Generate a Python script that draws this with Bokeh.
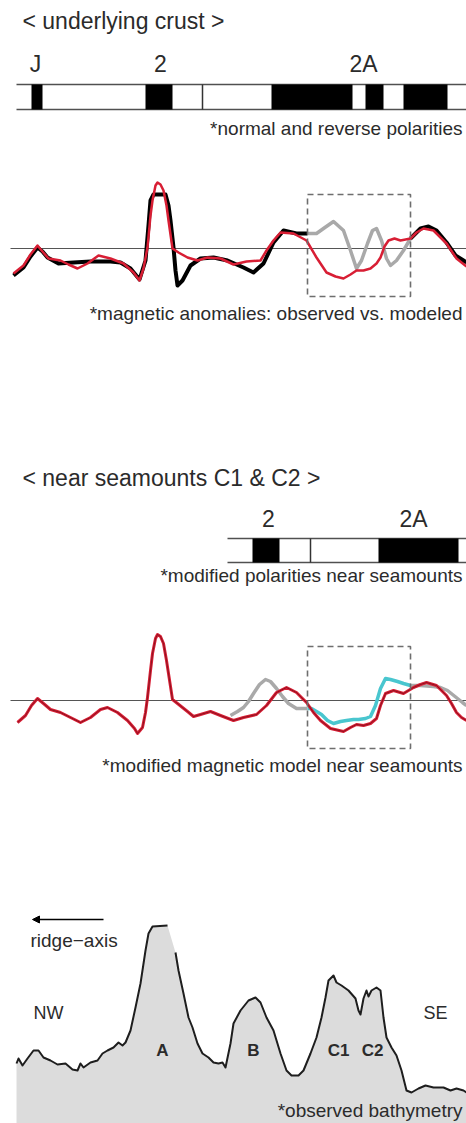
import numpy as np
from bokeh.plotting import figure
from bokeh.layouts import column
from bokeh.models import Range1d, Arrow, NormalHead, Label, BoxAnnotation
from bokeh.embed import file_html
from bokeh.resources import INLINE

FONT = "Liberation Sans"
WIDTH = 466
X_RANGE = (0.0, 93.2)          # distance along the profile, km

# ---------------------------------------------------------------- polarity
crust_bar_extent = (3.2, 93.2)
crust_reversed_start = [6.2, 29.0, 54.2, 73.0, 80.6]
crust_reversed_end = [8.4, 34.4, 70.4, 76.6, 89.4]
crust_boundaries = [40.4]
crust_chron_labels = ["J", "2", "2A"]
crust_chron_x = [7.0, 32.0, 72.6]

seamount_bar_extent = (45.4, 93.2)
seamount_reversed_start = [50.4, 75.6]
seamount_reversed_end = [55.8, 91.6]
seamount_boundaries = [62.0]
seamount_chron_labels = ["2", "2A"]
seamount_chron_x = [53.6, 82.6]

# ------------------------------------------------- magnetic anomalies (nT)
observed_km = [2.6, 4.6, 6.0, 7.4, 8.4, 9.4, 11.6, 14.6, 18.0, 22.0, 24.0, 26.0,
               27.8, 29.0, 29.6, 30.0, 30.6, 33.0, 33.6, 34.0, 34.6, 35.0, 35.4,
               36.4, 38.0, 40.0, 42.6, 45.4, 48.6, 50.6, 52.6, 54.6, 56.6, 59.2,
               61.2, 63.2, 64.6, 66.6, 68.6, 70.0, 71.2, 72.2, 73.4, 74.4, 75.2,
               76.2, 77.2, 78.0, 79.2, 80.6, 82.0, 84.0, 85.6, 87.2, 89.2, 91.0,
               92.6, 93.2]
observed_nT = [-270, -190, -80, 10, -30, -90, -150, -140, -130, -130, -140, -200,
               -310, -120, 230, 480, 540, 540, 430, 280, 10, -220, -370,
               -320, -170, -100, -90, -120, -190, -240, -150, 60, 180, 150,
               150, 150, 200, 270, 180, -20, -200, -120, 50, 180, 200,
               80, -100, -170, -120, -20, 100, 200, 220, 180, 60, -70,
               -120, -140]

model_km = [2.6, 4.6, 6.0, 7.4, 8.4, 9.6, 12.0, 13.6, 15.4, 17.4, 19.6, 22.0,
            24.6, 26.6, 27.8, 28.6, 29.4, 30.0, 30.4, 31.0, 31.4, 32.0, 32.6,
            33.2, 33.6, 34.4, 35.6, 37.4, 39.4, 41.4, 44.0, 46.6, 49.2, 52.0,
            53.2, 54.6, 56.0, 58.6, 61.2, 63.2, 65.2, 67.0, 68.6, 70.0, 71.2,
            72.6, 74.0, 75.2, 76.0, 76.8, 77.6, 78.8, 80.0, 81.0, 82.0, 83.2,
            84.6, 86.6, 89.2, 91.2, 93.2]
model_nT = [-250, -170, -60, 30, -30, -100, -120, -160, -200, -150, -70, -100,
            -150, -240, -320, -200, 10, 330, 480, 630, 660, 640, 580,
            430, 280, 0, -40, -90, -120, -90, -100, -160, -130, -120,
            -20, 80, 160, 150, 80, -90, -240, -280, -300, -260, -220,
            -220, -200, -150, -90, 20, 80, 100, 80, 90, 100, 160,
            200, 180, 50, -100, -180]

# modified model near the seamounts
modified_km = [3.4, 5.0, 6.2, 7.4, 8.6, 10.0, 12.0, 14.0, 16.0, 18.0, 20.0, 21.4,
               23.4, 25.4, 26.8, 27.4, 28.4, 29.0, 29.4, 30.0, 30.4, 31.0, 31.4,
               32.0, 32.6, 33.2, 33.6, 34.4, 36.4, 37.4, 38.6, 40.0, 42.0, 44.0,
               46.6, 48.6, 51.2, 53.2, 55.2, 57.2, 59.2, 61.2, 62.6, 64.0, 66.0,
               68.6, 70.0, 71.2, 72.6, 74.0, 75.2, 76.0, 77.0, 78.6, 80.6, 82.6,
               84.0, 85.2, 87.2, 89.2, 90.2, 91.2, 92.2, 93.2]
modified_nT = [-220, -150, -50, 20, -30, -90, -120, -170, -220, -170, -90, -70,
               -120, -200, -280, -330, -270, -120, 30, 300, 470, 620, 660,
               640, 570, 400, 270, 10, -70, -110, -160, -140, -110, -150,
               -200, -170, -140, -50, 80, 130, 80, -20, -120, -200, -280,
               -310, -270, -240, -250, -230, -180, -50, 70, 100, 70, 130,
               160, 180, 150, 50, -30, -120, -170, -200]

# reference anomaly plotted against the modified model
reference_km = [46.0, 47.4, 48.6, 49.6, 50.6, 51.8, 53.0, 54.0, 55.2, 56.4, 57.6,
                59.2, 61.0, 62.2, 63.2, 64.2, 65.4, 66.6, 68.0, 69.2, 70.6, 71.6,
                73.0, 74.0, 75.0, 76.0, 77.0, 78.0, 79.4, 80.6, 82.0, 84.0, 86.6,
                88.0, 89.4, 90.4, 91.4, 92.4, 93.2]
reference_nT = [-150, -110, -70, -10, 70, 160, 210, 190, 120, 40, -30,
                -80, -80, -80, -110, -140, -200, -230, -210, -200, -190, -190,
                -180, -160, -50, 120, 220, 210, 190, 170, 150, 150, 140,
                130, 100, 60, 20, -20, -50]

# window around seamounts C1 & C2
window_km = (61.4, 82.0)
window_nT = (-480, 540)

# ------------------------------------------------------- bathymetry (m)
bathy_km = [3.2, 3.6, 4.4, 5.4, 6.6, 7.6, 8.6, 10.0, 11.4, 13.0, 14.4, 15.4, 16.0,
            16.6, 18.0, 19.4, 20.4, 21.4, 22.6, 23.6, 24.4, 25.0, 26.0, 27.0,
            28.0, 29.0, 29.6, 30.4, 33.4, 35.0, 35.6, 36.6, 37.6, 38.4, 39.4,
            40.4, 41.6, 42.6, 43.6, 44.4, 45.0, 46.0, 46.6, 48.0, 49.6, 51.0,
            52.0, 53.2, 54.6, 56.0, 57.2, 58.2, 59.6, 60.6, 62.0, 63.2, 64.2,
            65.0, 65.6, 66.6, 67.2, 68.2, 69.6, 71.0, 71.6, 72.0, 72.6, 73.2,
            73.6, 74.2, 75.2, 76.0, 76.6, 77.2, 78.2, 79.2, 80.2, 81.2, 82.2,
            83.6, 85.0, 86.6, 88.6, 90.0, 91.2, 92.6, 93.2]
bathy_m = [600, 650, 580, 650, 730, 730, 660, 630, 590, 600, 540, 530, 600,
           560, 610, 630, 700, 730, 760, 810, 780, 810, 930, 1160,
           1400, 1730, 1900, 1970, 1980, 1710, 1530, 1300, 1060, 960, 800,
           700, 660, 610, 600, 610, 560, 800, 1000, 1130, 1230, 1260,
           1210, 1060, 930, 700, 530, 480, 480, 530, 700, 860, 1060,
           1260, 1430, 1480, 1410, 1380, 1330, 1250, 1130, 1090, 1250, 1330,
           1270, 1330, 1360, 1330, 1060, 860, 760, 680, 530, 330, 310,
           350, 380, 360, 360, 330, 350, 330, 310]
outline_break_km = 34.0      # survey gap on the flank of seamount A
seamount_names = ["A", "B", "C1", "C2"]
seamount_label_km = [32.4, 50.6, 67.6, 74.4]

TEXT = "#2b2b2b"
RED = "#d81e34"
GREY = "#a9a9a9"
CYAN = "#49c6cf"


def panel(height, y_start, y_end):
    p = figure(width=WIDTH, height=height, x_range=Range1d(*X_RANGE),
               y_range=Range1d(y_start, y_end), toolbar_location=None,
               output_backend="svg", min_border=0, min_border_left=0,
               min_border_right=0, min_border_top=0, min_border_bottom=0,
               outline_line_color=None, background_fill_color="white",
               border_fill_color="white")
    p.axis.visible = False
    p.grid.visible = False
    return p


def label(p, x, y, text, size, align="left", bold=False):
    p.add_layout(Label(x=x, y=y, text=text, text_font=FONT,
                       text_font_size=f"{size}px", text_align=align,
                       text_baseline="middle", text_color=TEXT,
                       text_font_style="bold" if bold else "normal"))


def polarity_bar(p, extent, rev_start, rev_end, bounds, top, bottom):
    p.segment(x0=[extent[0]] * 2, x1=[extent[1]] * 2, y0=[top, bottom],
              y1=[top, bottom], line_color="#505050", line_width=1.5)
    p.quad(left=rev_start, right=rev_end, top=top, bottom=bottom,
           fill_color="black", line_color=None)
    p.segment(x0=bounds, x1=bounds, y0=top, y1=bottom,
              line_color="#333333", line_width=1.5)


def split_window(x, y, x0, x1):
    x = np.asarray(x, float)
    y = np.asarray(y, float)
    y0, y1 = np.interp(x0, x, y), np.interp(x1, x, y)
    left, mid, right = x < x0, (x > x0) & (x < x1), x > x1
    return ((np.r_[x[left], x0], np.r_[y[left], y0]),
            (np.r_[x0, x[mid], x1], np.r_[y0, y[mid], y1]),
            (np.r_[x1, x[right]], np.r_[y1, y[right]]))


def window_box(p):
    p.add_layout(BoxAnnotation(left=window_km[0], right=window_km[1],
                               bottom=window_nT[0], top=window_nT[1],
                               fill_alpha=0, line_color="#6e6e6e",
                               line_alpha=1.0, line_width=1.6,
                               line_dash="6 4"))


def zero_line(p):
    p.line([2.0, X_RANGE[1]], [0, 0], line_color="#555555", line_width=1)


# ---- normal and reverse polarities of the underlying crust
p1 = panel(145, 145, 0)
label(p1, 4.4, 20, "< underlying crust >", 23)
for name, xc in zip(crust_chron_labels, crust_chron_x):
    label(p1, xc, 63, name, 23, align="center")
polarity_bar(p1, crust_bar_extent, crust_reversed_start, crust_reversed_end,
             crust_boundaries, 84, 109)
label(p1, 92.4, 128, "*normal and reverse polarities", 19, align="right")

# ---- observed vs. modeled anomalies
p2 = panel(310, -2070, 1030)
zero_line(p2)
window_box(p2)
obs_l, obs_m, obs_r = split_window(observed_km, observed_nT, *window_km)
p2.line(obs_m[0], obs_m[1], line_color=GREY, line_width=3.5, line_join="round")
for seg in (obs_l, obs_r):
    p2.line(seg[0], seg[1], line_color="black", line_width=4, line_join="round")
p2.line(model_km, model_nT, line_color=RED, line_width=2.5, line_join="round")
label(p2, 92.4, -650, "*magnetic anomalies: observed vs. modeled", 19, align="right")

# ---- modified polarities near the seamounts
p3 = panel(145, 145, 0)
label(p3, 4.4, 22, "< near seamounts C1 & C2 >", 23)
for name, xc in zip(seamount_chron_labels, seamount_chron_x):
    label(p3, xc, 63, name, 23, align="center")
polarity_bar(p3, seamount_bar_extent, seamount_reversed_start,
             seamount_reversed_end, seamount_boundaries, 83, 107)
label(p3, 92.4, 120, "*modified polarities near seamounts", 19, align="right")

# ---- modified magnetic model
p4 = panel(290, -1900, 1000)
zero_line(p4)
window_box(p4)
ref_l, ref_m, ref_r = split_window(reference_km, reference_nT, *window_km)
for seg in (ref_l, ref_r):
    p4.line(seg[0], seg[1], line_color=GREY, line_width=3.5, line_join="round")
p4.line(ref_m[0], ref_m[1], line_color=CYAN, line_width=3.5, line_join="round")
p4.line(modified_km, modified_nT, line_color=RED, line_width=3, line_join="round")
p4.line(modified_km, modified_nT, line_color="#5a0b14", line_width=1,
        line_alpha=0.6, line_join="round")
label(p4, 92.4, -650, "*modified magnetic model near seamounts", 19, align="right")

# ---- observed bathymetry
p5 = panel(233, 0, 2330)
bx = np.asarray(bathy_km)
bz = np.asarray(bathy_m)
p5.varea(x=bx, y1=0, y2=bz, fill_color="#dcdcdc")
before = bx < outline_break_km
p5.multi_line(xs=[bx[before], bx[~before]], ys=[bz[before], bz[~before]],
              line_color="#1e1e1e", line_width=2, line_join="round")
p5.add_layout(Arrow(end=NormalHead(size=7, fill_color="black", line_color="black"),
                    x_start=20.6, y_start=2040, x_end=6.4, y_end=2040,
                    line_color="black", line_width=1.5))
label(p5, 6.0, 1830, "ridge−axis", 19)
label(p5, 6.6, 1110, "NW", 18)
label(p5, 84.6, 1110, "SE", 18)
for name, xc in zip(seamount_names, seamount_label_km):
    label(p5, xc, 730, name, 17, align="center", bold=True)
label(p5, 92.4, 130, "*observed bathymetry", 19, align="right")

page = column(p1, p2, p3, p4, p5, spacing=0)
open("out.html", "w").write(file_html(page, INLINE))
